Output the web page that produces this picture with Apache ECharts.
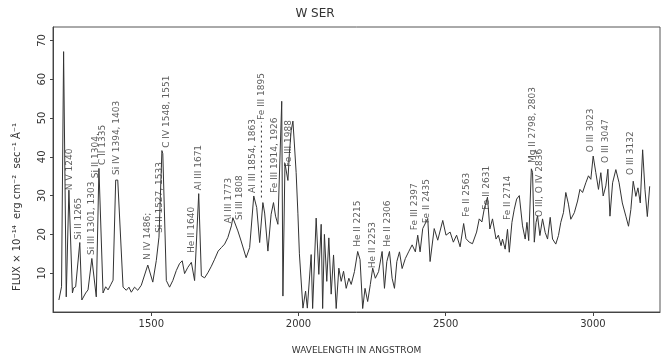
<!DOCTYPE html>
<html>
<head>
<meta charset="utf-8">
<style>
  html, body { margin: 0; padding: 0; background: #fff; }
  #chart { width: 667px; height: 362px; }
</style>
<script src="https://cdn.jsdelivr.net/npm/echarts@6/dist/echarts.min.js"></script>
</head>
<body>
<div id="chart"></div>
<script>
// spectrum: wavelength (Angstrom) and flux (1e-14 erg cm-2 s-1 A-1)
const wavelength = [
  1186, 1195, 1202, 1211, 1220, 1226, 1232, 1236, 1243, 1257, 1264, 1277, 1285, 1298, 1313, 1322,
  1327, 1336, 1345, 1353, 1362, 1370, 1379, 1386, 1404, 1415, 1424, 1432, 1443, 1454, 1466, 1488,
  1505, 1517, 1526, 1536, 1539, 1551, 1562, 1573, 1585, 1596, 1605, 1613, 1624, 1636, 1647, 1661,
  1670, 1681, 1692, 1704, 1715, 1727, 1738, 1749, 1760, 1772, 1777, 1794, 1805, 1822, 1834, 1848,
  1858, 1868, 1879, 1885, 1896, 1907, 1915, 1922, 1930, 1943, 1947, 1954, 1964, 1969, 1975, 1981,
  1986, 1992, 1998, 2003, 2015, 2024, 2030, 2043, 2048, 2060, 2069, 2077, 2082, 2088, 2096, 2103,
  2111, 2119, 2128, 2137, 2145, 2153, 2162, 2171, 2179, 2190, 2201, 2209, 2218, 2226, 2235, 2244,
  2252, 2261, 2272, 2284, 2292, 2300, 2309, 2318, 2326, 2334, 2343, 2352, 2363, 2374, 2386, 2397,
  2405, 2413, 2422, 2439, 2447, 2461, 2473, 2490, 2501, 2515, 2526, 2537, 2549, 2561, 2569, 2580,
  2591, 2605, 2614, 2623, 2631, 2642, 2650, 2659, 2671, 2679, 2688, 2693, 2702, 2710, 2716, 2725,
  2733, 2741, 2750, 2761, 2770, 2776, 2782, 2791, 2795, 2801, 2807, 2812, 2820, 2829, 2838, 2846,
  2855, 2863, 2874, 2883, 2891, 2900, 2908, 2917, 2925, 2937, 2948, 2956, 2965, 2976, 2985, 2993,
  3001, 3010, 3019, 3027, 3035, 3044, 3051, 3058, 3067, 3078, 3089, 3100, 3112, 3121, 3129, 3137,
  3146, 3153, 3161, 3169, 3177, 3185, 3193
];
const flux = [
  3.1, 6.5, 67.1, 3.9, 31.4, 31.0, 4.9, 6.2, 6.5, 17.9, 3.1, 4.9, 5.7, 13.8, 3.9, 37.0,
  37.1, 4.9, 6.5, 5.7, 7.0, 8.2, 34.0, 34.0, 6.4, 5.6, 6.4, 5.1, 6.4, 5.6, 6.9, 12.1,
  7.7, 13.3, 19.3, 41.6, 40.8, 8.1, 6.4, 8.1, 10.7, 12.5, 13.2, 9.9, 11.5, 12.8, 8.1, 30.5,
  9.3, 8.8, 10.1, 11.8, 13.6, 15.7, 16.6, 17.5, 19.2, 22.2, 24.3, 20.9, 18.3, 14.0, 16.6, 29.9,
  26.9, 17.9, 28.2, 25.5, 15.7, 25.2, 28.2, 24.7, 22.6, 54.3, 4.1, 38.3, 33.9, 40.8, 46.7, 49.2,
  43.3, 35.9, 25.3, 15.0, 1.0, 5.4, 1.0, 14.8, 0.9, 24.2, 9.7, 22.6, 0.9, 20.0, 7.9, 19.1,
  4.6, 14.7, 0.9, 11.3, 7.9, 10.5, 6.1, 8.7, 7.1, 10.4, 15.6, 13.5, 0.9, 6.1, 2.7, 7.1,
  11.3, 8.7, 10.4, 15.6, 6.1, 13.0, 15.6, 8.7, 6.1, 13.0, 15.5, 11.2, 13.8, 15.5, 17.3, 15.5,
  19.8, 15.5, 21.5, 24.1, 13.0, 21.5, 18.5, 23.6, 19.8, 20.6, 18.0, 19.8, 16.8, 22.8, 18.9, 18.0,
  17.6, 20.6, 24.0, 23.2, 26.6, 29.6, 21.4, 24.0, 18.8, 19.8, 17.1, 18.8, 16.2, 21.3, 15.4, 23.1,
  26.5, 29.1, 30.0, 22.2, 18.8, 23.1, 18.4, 36.9, 36.0, 18.0, 23.1, 24.8, 19.7, 24.0, 20.5, 18.8,
  24.4, 18.8, 17.5, 19.7, 23.1, 25.6, 30.8, 27.8, 23.9, 25.6, 28.6, 31.6, 30.8, 33.3, 35.1, 34.2,
  40.2, 35.9, 31.6, 35.9, 29.9, 32.5, 36.8, 24.7, 33.3, 36.7, 33.3, 28.1, 24.7, 22.1, 26.4, 33.7,
  29.8, 32.0, 28.1, 41.8, 31.5, 24.6, 32.4
];

// line identifications: text, wavelength and flux at the foot of the text
const lineNames = [
  'N V 1240', 'Si II 1265', 'Si III 1301, 1303', 'Si II 1304,', 'C II 1335', 'Si IV 1394, 1403',
  'N IV 1486;', 'Si II 1527, 1533', 'C IV 1548, 1551', 'He II 1640', 'Al III 1671', 'Al III 1773',
  'Si III 1808', 'Al III 1854, 1863', 'Fe III 1895', 'Fe III 1914, 1926', 'Fe III 1988', 'He II 2215',
  'He II 2253', 'He II 2306', 'Fe III 2397', 'Fe II 2435', 'Fe II 2563', 'Fe II 2631',
  'Fe II 2714', 'Mg II 2798, 2803', 'O III, O IV 2836', 'O III 3023', 'O III 3047', 'O III 3132'
];
const lineX = [
  1223, 1253, 1297, 1311, 1335, 1382, 1487, 1528, 1552, 1637, 1661, 1762,
  1800, 1844, 1874, 1919, 1966, 2200, 2251, 2302, 2393, 2434, 2570, 2638,
  2709, 2794, 2818, 2994, 3045, 3130
];
const lineY = [
  31.4, 18.6, 14.7, 34.5, 37.9, 35.3, 13.4, 20.4, 42.3, 15.2, 31.4, 22.9,
  23.7, 30.7, 49.5, 30.7, 37.4, 16.8, 11.3, 16.8, 21.1, 22.9, 24.5, 26.3,
  23.7, 38.4, 24.5, 41.2, 38.4, 35.3
];
// dotted leader under Fe III 1895
const leaderX = [1874, 1874];
const leaderY = [29.5, 49];

const xTicks = [1500, 2000, 2500, 3000];

const chart = echarts.init(document.getElementById('chart'));
const ink = '#333';
const font = 'DejaVu Sans';

chart.setOption({
  animation: false,
  backgroundColor: '#fff',
  title: {
    text: 'W SER',
    left: 310,
    top: 3,
    textAlign: 'center',
    textStyle: { fontFamily: font, fontSize: 12, fontWeight: 'normal', color: ink },
  },
  grid: {
    left: 53,
    right: 7,
    top: 27,
    bottom: 50,
    show: true,
    borderColor: '#555',
    borderWidth: 1,
  },
  xAxis: {
    type: 'value',
    min: 1166,
    max: 3228,
    name: 'WAVELENGTH IN ANGSTROM',
    nameLocation: 'middle',
    nameGap: 34,
    nameTextStyle: { fontFamily: font, fontSize: 9, color: ink },
    axisLine: { show: true, lineStyle: { color: '#444' } },
    axisTick: { show: true, customValues: xTicks, length: 4, lineStyle: { color: '#444' } },
    axisLabel: {
      customValues: xTicks,
      formatter: (v) => String(v),
      fontFamily: font,
      fontSize: 10,
      color: ink,
      margin: 7,
    },
    splitLine: { show: false },
  },
  yAxis: {
    type: 'value',
    min: 0,
    max: 73.45,
    interval: 10,
    axisLine: { show: true, lineStyle: { color: '#444' } },
    axisTick: { show: true, length: 3, lineStyle: { color: '#444' } },
    axisLabel: {
      rotate: 90,
      showMinLabel: false,
      showMaxLabel: false,
      fontFamily: font,
      fontSize: 10,
      color: ink,
      margin: 6,
    },
    splitLine: { show: false },
  },
  graphic: [
    {
      type: 'text',
      x: 17,
      y: 207,
      rotation: Math.PI / 2,
      style: {
        text: 'FLUX × 10⁻¹⁴  erg cm⁻²  sec⁻¹ Å⁻¹',
        fontFamily: font,
        fontSize: 10,
        fill: ink,
        align: 'center',
        verticalAlign: 'middle',
      },
    },
  ],
  series: [
    {
      type: 'line',
      data: wavelength.map((w, i) => [w, flux[i]]),
      showSymbol: false,
      symbol: 'none',
      lineStyle: { color: ink, width: 1 },
      silent: true,
    },
    {
      type: 'line',
      data: leaderX.map((w, i) => [w, leaderY[i]]),
      showSymbol: false,
      symbol: 'none',
      lineStyle: { color: ink, width: 1, type: [2, 3] },
      silent: true,
    },
    {
      type: 'scatter',
      symbolSize: 0,
      silent: true,
      data: lineNames.map((n, i) => ({ name: n, value: [lineX[i], lineY[i]] })),
      label: {
        show: true,
        formatter: (p) => p.name,
        position: 'inside',
        rotate: 90,
        align: 'left',
        verticalAlign: 'middle',
        fontFamily: font,
        fontSize: 9,
        color: ink,
      },
    },
  ],
});
</script>
</body>
</html>
